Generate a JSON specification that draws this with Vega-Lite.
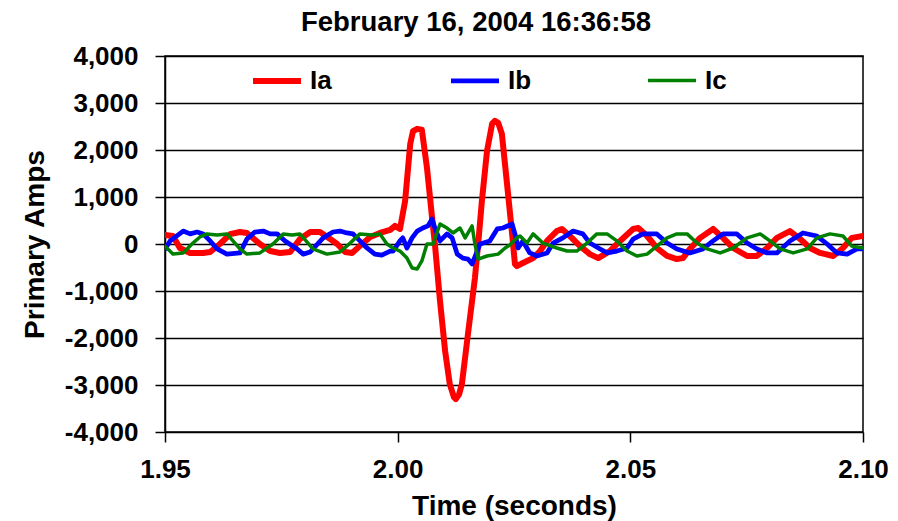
{
  "$schema": "https://vega.github.io/schema/vega-lite/v6.json",
  "width": 698,
  "height": 376,
  "autosize": "none",
  "padding": {"left": 165, "top": 56, "right": 35, "bottom": 89},
  "background": "white",
  "config": {
    "font": "Liberation Sans",
    "view": {"stroke": "black", "strokeWidth": 1.5}
  },
  "title": {
    "text": "February 16, 2004 16:36:58",
    "fontSize": 27.5,
    "fontWeight": "bold",
    "color": "black",
    "anchor": "middle",
    "frame": "group",
    "dx": -38,
    "offset": 7
  },
  "data": {
    "values": [
      {"t": 1.95, "s": "Ia", "v": 190},
      {"t": 1.9517, "s": "Ia", "v": 170},
      {"t": 1.9532, "s": "Ia", "v": -85},
      {"t": 1.9554, "s": "Ia", "v": -190},
      {"t": 1.9582, "s": "Ia", "v": -190},
      {"t": 1.9597, "s": "Ia", "v": -170},
      {"t": 1.9618, "s": "Ia", "v": 0},
      {"t": 1.964, "s": "Ia", "v": 210},
      {"t": 1.9661, "s": "Ia", "v": 255},
      {"t": 1.9676, "s": "Ia", "v": 235},
      {"t": 1.9704, "s": "Ia", "v": 0},
      {"t": 1.9726, "s": "Ia", "v": -150},
      {"t": 1.9747, "s": "Ia", "v": -190},
      {"t": 1.9769, "s": "Ia", "v": -170},
      {"t": 1.979, "s": "Ia", "v": 105},
      {"t": 1.9812, "s": "Ia", "v": 255},
      {"t": 1.9833, "s": "Ia", "v": 255},
      {"t": 1.9855, "s": "Ia", "v": 105},
      {"t": 1.987, "s": "Ia", "v": 0},
      {"t": 1.9887, "s": "Ia", "v": -170},
      {"t": 1.9902, "s": "Ia", "v": -190},
      {"t": 1.9919, "s": "Ia", "v": -40},
      {"t": 1.9941, "s": "Ia", "v": 150},
      {"t": 1.9962, "s": "Ia", "v": 235},
      {"t": 1.9984, "s": "Ia", "v": 300},
      {"t": 1.9994, "s": "Ia", "v": 385},
      {"t": 2.0005, "s": "Ia", "v": 320},
      {"t": 2.0016, "s": "Ia", "v": 915},
      {"t": 2.0027, "s": "Ia", "v": 2130},
      {"t": 2.0033, "s": "Ia", "v": 2400},
      {"t": 2.0042, "s": "Ia", "v": 2450},
      {"t": 2.0052, "s": "Ia", "v": 2430},
      {"t": 2.0063, "s": "Ia", "v": 1620},
      {"t": 2.0074, "s": "Ia", "v": 555},
      {"t": 2.008, "s": "Ia", "v": 0},
      {"t": 2.0091, "s": "Ia", "v": -1215},
      {"t": 2.0102, "s": "Ia", "v": -2280},
      {"t": 2.0112, "s": "Ia", "v": -2980},
      {"t": 2.0121, "s": "Ia", "v": -3260},
      {"t": 2.0125, "s": "Ia", "v": -3300},
      {"t": 2.0132, "s": "Ia", "v": -3200},
      {"t": 2.0138, "s": "Ia", "v": -2980},
      {"t": 2.0151, "s": "Ia", "v": -1920},
      {"t": 2.0166, "s": "Ia", "v": -725},
      {"t": 2.0173, "s": "Ia", "v": 0},
      {"t": 2.0181, "s": "Ia", "v": 915},
      {"t": 2.0192, "s": "Ia", "v": 1980},
      {"t": 2.0203, "s": "Ia", "v": 2560},
      {"t": 2.0209, "s": "Ia", "v": 2620},
      {"t": 2.0216, "s": "Ia", "v": 2580},
      {"t": 2.0224, "s": "Ia", "v": 2340},
      {"t": 2.0235, "s": "Ia", "v": 1280},
      {"t": 2.0246, "s": "Ia", "v": 210},
      {"t": 2.0252, "s": "Ia", "v": -425},
      {"t": 2.0256, "s": "Ia", "v": -470},
      {"t": 2.0269, "s": "Ia", "v": -405},
      {"t": 2.0291, "s": "Ia", "v": -300},
      {"t": 2.0306, "s": "Ia", "v": -150},
      {"t": 2.0321, "s": "Ia", "v": 65},
      {"t": 2.0342, "s": "Ia", "v": 275},
      {"t": 2.0353, "s": "Ia", "v": 320},
      {"t": 2.037, "s": "Ia", "v": 170},
      {"t": 2.0392, "s": "Ia", "v": -45},
      {"t": 2.0413, "s": "Ia", "v": -215},
      {"t": 2.0431, "s": "Ia", "v": -300},
      {"t": 2.0456, "s": "Ia", "v": -150},
      {"t": 2.0478, "s": "Ia", "v": 65},
      {"t": 2.0506, "s": "Ia", "v": 320},
      {"t": 2.0517, "s": "Ia", "v": 340},
      {"t": 2.0536, "s": "Ia", "v": 170},
      {"t": 2.0557, "s": "Ia", "v": -85},
      {"t": 2.0579, "s": "Ia", "v": -255},
      {"t": 2.06, "s": "Ia", "v": -320},
      {"t": 2.0613, "s": "Ia", "v": -300},
      {"t": 2.0628, "s": "Ia", "v": -105},
      {"t": 2.065, "s": "Ia", "v": 130},
      {"t": 2.0678, "s": "Ia", "v": 320},
      {"t": 2.0699, "s": "Ia", "v": 130},
      {"t": 2.0721, "s": "Ia", "v": -85},
      {"t": 2.0751, "s": "Ia", "v": -255},
      {"t": 2.0772, "s": "Ia", "v": -255},
      {"t": 2.0794, "s": "Ia", "v": -85},
      {"t": 2.0815, "s": "Ia", "v": 130},
      {"t": 2.0843, "s": "Ia", "v": 275},
      {"t": 2.0865, "s": "Ia", "v": 105},
      {"t": 2.0886, "s": "Ia", "v": -85},
      {"t": 2.0908, "s": "Ia", "v": -190},
      {"t": 2.0936, "s": "Ia", "v": -255},
      {"t": 2.0957, "s": "Ia", "v": -85},
      {"t": 2.0976, "s": "Ia", "v": 130},
      {"t": 2.1, "s": "Ia", "v": 170},

      {"t": 1.95, "s": "Ib", "v": -105},
      {"t": 1.9511, "s": "Ib", "v": 65},
      {"t": 1.9539, "s": "Ib", "v": 275},
      {"t": 1.9554, "s": "Ib", "v": 215},
      {"t": 1.9569, "s": "Ib", "v": 255},
      {"t": 1.9582, "s": "Ib", "v": 215},
      {"t": 1.9597, "s": "Ib", "v": 65},
      {"t": 1.9612, "s": "Ib", "v": -105},
      {"t": 1.9633, "s": "Ib", "v": -215},
      {"t": 1.9661, "s": "Ib", "v": -190},
      {"t": 1.9676, "s": "Ib", "v": 105},
      {"t": 1.9693, "s": "Ib", "v": 255},
      {"t": 1.9711, "s": "Ib", "v": 275},
      {"t": 1.9726, "s": "Ib", "v": 215},
      {"t": 1.9741, "s": "Ib", "v": 215},
      {"t": 1.9758, "s": "Ib", "v": 65},
      {"t": 1.9784, "s": "Ib", "v": -105},
      {"t": 1.9797, "s": "Ib", "v": -215},
      {"t": 1.9812, "s": "Ib", "v": -170},
      {"t": 1.984, "s": "Ib", "v": 130},
      {"t": 1.9861, "s": "Ib", "v": 255},
      {"t": 1.9876, "s": "Ib", "v": 275},
      {"t": 1.9891, "s": "Ib", "v": 235},
      {"t": 1.9904, "s": "Ib", "v": 215},
      {"t": 1.9919, "s": "Ib", "v": 65},
      {"t": 1.9934, "s": "Ib", "v": -85},
      {"t": 1.9951, "s": "Ib", "v": -215},
      {"t": 1.9966, "s": "Ib", "v": -235},
      {"t": 1.9984, "s": "Ib", "v": -150},
      {"t": 1.999, "s": "Ib", "v": -150},
      {"t": 2.0005, "s": "Ib", "v": 65},
      {"t": 2.0011, "s": "Ib", "v": 130},
      {"t": 2.002, "s": "Ib", "v": -85},
      {"t": 2.0031, "s": "Ib", "v": 130},
      {"t": 2.0042, "s": "Ib", "v": 275},
      {"t": 2.0054, "s": "Ib", "v": 340},
      {"t": 2.0065, "s": "Ib", "v": 385},
      {"t": 2.0074, "s": "Ib", "v": 530},
      {"t": 2.008, "s": "Ib", "v": 340},
      {"t": 2.0091, "s": "Ib", "v": 65},
      {"t": 2.0106, "s": "Ib", "v": 215},
      {"t": 2.0117, "s": "Ib", "v": 130},
      {"t": 2.0128, "s": "Ib", "v": -215},
      {"t": 2.014, "s": "Ib", "v": -300},
      {"t": 2.0151, "s": "Ib", "v": -320},
      {"t": 2.016, "s": "Ib", "v": -425},
      {"t": 2.0171, "s": "Ib", "v": -150},
      {"t": 2.0177, "s": "Ib", "v": 0},
      {"t": 2.0198, "s": "Ib", "v": 65},
      {"t": 2.0214, "s": "Ib", "v": 320},
      {"t": 2.0226, "s": "Ib", "v": 340},
      {"t": 2.0246, "s": "Ib", "v": 425},
      {"t": 2.0252, "s": "Ib", "v": 215},
      {"t": 2.0259, "s": "Ib", "v": -85},
      {"t": 2.0269, "s": "Ib", "v": 65},
      {"t": 2.0284, "s": "Ib", "v": -190},
      {"t": 2.0299, "s": "Ib", "v": -255},
      {"t": 2.0321, "s": "Ib", "v": -190},
      {"t": 2.0334, "s": "Ib", "v": 20},
      {"t": 2.0355, "s": "Ib", "v": 130},
      {"t": 2.0377, "s": "Ib", "v": 275},
      {"t": 2.0398, "s": "Ib", "v": 215},
      {"t": 2.0413, "s": "Ib", "v": 20},
      {"t": 2.0435, "s": "Ib", "v": -105},
      {"t": 2.045, "s": "Ib", "v": -190},
      {"t": 2.0471, "s": "Ib", "v": -150},
      {"t": 2.0493, "s": "Ib", "v": -85},
      {"t": 2.0506, "s": "Ib", "v": 105},
      {"t": 2.0527, "s": "Ib", "v": 215},
      {"t": 2.0557, "s": "Ib", "v": 215},
      {"t": 2.0579, "s": "Ib", "v": 20},
      {"t": 2.06, "s": "Ib", "v": -105},
      {"t": 2.0628, "s": "Ib", "v": -190},
      {"t": 2.0656, "s": "Ib", "v": -105},
      {"t": 2.0678, "s": "Ib", "v": 65},
      {"t": 2.0699, "s": "Ib", "v": 215},
      {"t": 2.0729, "s": "Ib", "v": 215},
      {"t": 2.0751, "s": "Ib", "v": 20},
      {"t": 2.0772, "s": "Ib", "v": -105},
      {"t": 2.0794, "s": "Ib", "v": -190},
      {"t": 2.0815, "s": "Ib", "v": -190},
      {"t": 2.0843, "s": "Ib", "v": 65},
      {"t": 2.0871, "s": "Ib", "v": 235},
      {"t": 2.0901, "s": "Ib", "v": 170},
      {"t": 2.0923, "s": "Ib", "v": 0},
      {"t": 2.0944, "s": "Ib", "v": -190},
      {"t": 2.0966, "s": "Ib", "v": -215},
      {"t": 2.0987, "s": "Ib", "v": -105},
      {"t": 2.1, "s": "Ib", "v": -105},

      {"t": 1.95, "s": "Ic", "v": -45},
      {"t": 1.9517, "s": "Ic", "v": -215},
      {"t": 1.9539, "s": "Ic", "v": -190},
      {"t": 1.956, "s": "Ic", "v": 20},
      {"t": 1.9575, "s": "Ic", "v": 150},
      {"t": 1.959, "s": "Ic", "v": 215},
      {"t": 1.9612, "s": "Ic", "v": 190},
      {"t": 1.9633, "s": "Ic", "v": 215},
      {"t": 1.9646, "s": "Ic", "v": 65},
      {"t": 1.9661, "s": "Ic", "v": -105},
      {"t": 1.9676, "s": "Ic", "v": -215},
      {"t": 1.9704, "s": "Ic", "v": -190},
      {"t": 1.9732, "s": "Ic", "v": 0},
      {"t": 1.9754, "s": "Ic", "v": 215},
      {"t": 1.9773, "s": "Ic", "v": 190},
      {"t": 1.979, "s": "Ic", "v": 215},
      {"t": 1.9818, "s": "Ic", "v": -105},
      {"t": 1.9848, "s": "Ic", "v": -215},
      {"t": 1.9876, "s": "Ic", "v": -170},
      {"t": 1.9898, "s": "Ic", "v": 20},
      {"t": 1.9919, "s": "Ic", "v": 215},
      {"t": 1.9945, "s": "Ic", "v": 190},
      {"t": 1.9962, "s": "Ic", "v": 215},
      {"t": 1.9977, "s": "Ic", "v": 0},
      {"t": 1.999, "s": "Ic", "v": -85},
      {"t": 2.0005, "s": "Ic", "v": -150},
      {"t": 2.002, "s": "Ic", "v": -300},
      {"t": 2.0031, "s": "Ic", "v": -510},
      {"t": 2.0042, "s": "Ic", "v": -530},
      {"t": 2.0052, "s": "Ic", "v": -360},
      {"t": 2.0063, "s": "Ic", "v": 0},
      {"t": 2.0076, "s": "Ic", "v": 0},
      {"t": 2.0091, "s": "Ic", "v": 425},
      {"t": 2.0106, "s": "Ic", "v": 340},
      {"t": 2.0119, "s": "Ic", "v": 235},
      {"t": 2.0134, "s": "Ic", "v": 340},
      {"t": 2.0145, "s": "Ic", "v": 130},
      {"t": 2.016, "s": "Ic", "v": 385},
      {"t": 2.0166, "s": "Ic", "v": 0},
      {"t": 2.0173, "s": "Ic", "v": -320},
      {"t": 2.0192, "s": "Ic", "v": -255},
      {"t": 2.0216, "s": "Ic", "v": -215},
      {"t": 2.0231, "s": "Ic", "v": -85},
      {"t": 2.0241, "s": "Ic", "v": -20},
      {"t": 2.0256, "s": "Ic", "v": 130},
      {"t": 2.0263, "s": "Ic", "v": 170},
      {"t": 2.0278, "s": "Ic", "v": 20},
      {"t": 2.0291, "s": "Ic", "v": 215},
      {"t": 2.0312, "s": "Ic", "v": 20},
      {"t": 2.0342, "s": "Ic", "v": -85},
      {"t": 2.0364, "s": "Ic", "v": -150},
      {"t": 2.0385, "s": "Ic", "v": -150},
      {"t": 2.0407, "s": "Ic", "v": 20},
      {"t": 2.0428, "s": "Ic", "v": 215},
      {"t": 2.045, "s": "Ic", "v": 215},
      {"t": 2.0471, "s": "Ic", "v": 65},
      {"t": 2.0493, "s": "Ic", "v": -150},
      {"t": 2.0514, "s": "Ic", "v": -255},
      {"t": 2.0536, "s": "Ic", "v": -215},
      {"t": 2.0557, "s": "Ic", "v": -45},
      {"t": 2.0579, "s": "Ic", "v": 130},
      {"t": 2.06, "s": "Ic", "v": 215},
      {"t": 2.0622, "s": "Ic", "v": 215},
      {"t": 2.0643, "s": "Ic", "v": 20},
      {"t": 2.0665, "s": "Ic", "v": -105},
      {"t": 2.0693, "s": "Ic", "v": -190},
      {"t": 2.0721, "s": "Ic", "v": -85},
      {"t": 2.0751, "s": "Ic", "v": 130},
      {"t": 2.0779, "s": "Ic", "v": 215},
      {"t": 2.08, "s": "Ic", "v": 65},
      {"t": 2.0822, "s": "Ic", "v": -105},
      {"t": 2.085, "s": "Ic", "v": -190},
      {"t": 2.088, "s": "Ic", "v": -105},
      {"t": 2.0901, "s": "Ic", "v": 130},
      {"t": 2.0929, "s": "Ic", "v": 215},
      {"t": 2.0957, "s": "Ic", "v": 170},
      {"t": 2.0976, "s": "Ic", "v": -45},
      {"t": 2.1, "s": "Ic", "v": -85}
    ]
  },
  "mark": {"type": "line", "clip": true, "strokeJoin": "round", "strokeCap": "round"},
  "encoding": {
    "x": {
      "field": "t",
      "type": "quantitative",
      "scale": {"domain": [1.95, 2.1], "nice": false, "zero": false},
      "axis": {
        "title": "Time (seconds)",
        "values": [1.95, 2.0, 2.05, 2.1],
        "format": ".2f",
        "grid": false,
        "domain": false,
        "ticks": true,
        "tickColor": "black",
        "tickWidth": 1.5,
        "tickSize": 10,
        "labelFontSize": 26,
        "labelFontWeight": "bold",
        "labelColor": "black",
        "labelPadding": 14,
        "labelFlush": false,
        "titleFontSize": 28,
        "titleFontWeight": "bold",
        "titleColor": "black",
        "titlePadding": 10
      }
    },
    "y": {
      "field": "v",
      "type": "quantitative",
      "scale": {"domain": [-4000, 4000], "nice": false},
      "axis": {
        "title": "Primary Amps",
        "values": [-4000, -3000, -2000, -1000, 0, 1000, 2000, 3000, 4000],
        "labelExpr": "(datum.value < 0 ? '-' : '') + format(abs(datum.value), ',.0f')",
        "grid": true,
        "gridColor": "black",
        "gridWidth": 1.5,
        "gridOpacity": 1,
        "domain": true,
        "domainColor": "black",
        "domainWidth": 1.5,
        "tickColor": "black",
        "tickWidth": 1.5,
        "tickSize": 10,
        "labelFontSize": 26,
        "labelFontWeight": "bold",
        "labelColor": "black",
        "labelPadding": 17,
        "titleFontSize": 28,
        "titleFontWeight": "bold",
        "titleColor": "black",
        "titlePadding": 15
      }
    },
    "color": {
      "field": "s",
      "type": "nominal",
      "scale": {"domain": ["Ia", "Ib", "Ic"], "range": ["#ff0000", "#0000ff", "#008000"]},
      "legend": {
        "title": null,
        "orient": "none",
        "legendX": 85,
        "legendY": -2,
        "direction": "horizontal",
        "columns": 3,
        "columnPadding": 109,
        "padding": 0,
        "symbolType": "stroke",
        "symbolSize": 2304,
        "symbolStrokeWidth": 4,
        "labelFontSize": 26,
        "labelFontWeight": "bold",
        "labelColor": "black",
        "labelOffset": 6
      }
    },
    "strokeWidth": {
      "field": "s",
      "type": "nominal",
      "scale": {"domain": ["Ia", "Ib", "Ic"], "range": [6, 3.5, 2]},
      "legend": null
    }
  }
}
